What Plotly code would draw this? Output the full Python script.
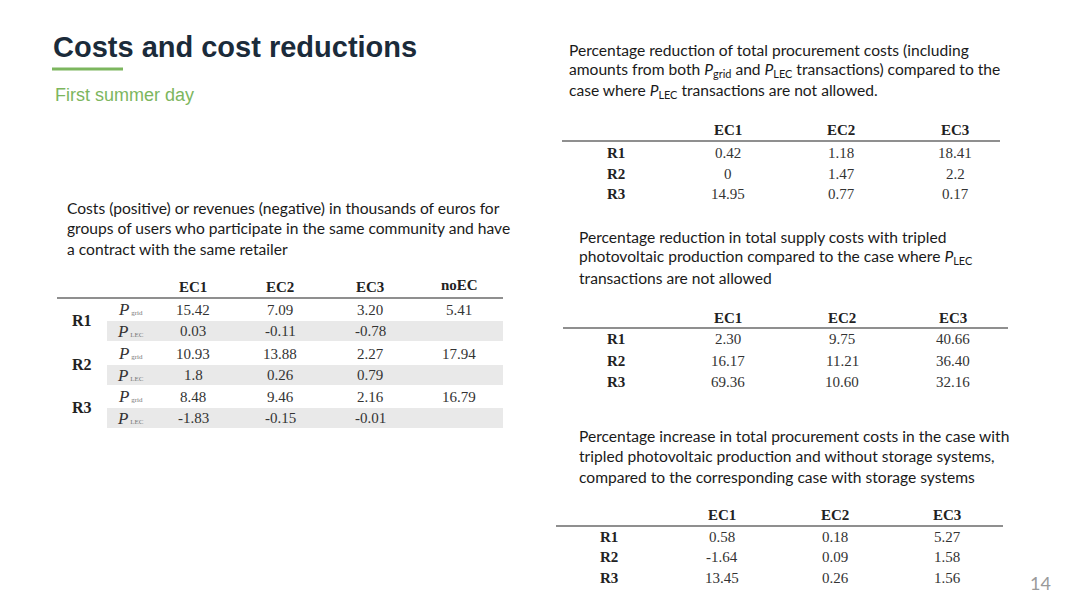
import plotly.graph_objects as go

# --- data ---------------------------------------------------------------
retailers = ["R1", "R2", "R3"]
communities = ["EC1", "EC2", "EC3"]
no_ec_label = "noEC"

# costs (thousands of euros), first summer day
pgrid_costs = [["15.42", "7.09", "3.20"], ["10.93", "13.88", "2.27"], ["8.48", "9.46", "2.16"]]
plec_costs = [["0.03", "-0.11", "-0.78"], ["1.8", "0.26", "0.79"], ["-1.83", "-0.15", "-0.01"]]
no_ec_costs = ["5.41", "17.94", "16.79"]

# percentage reduction of total procurement costs
reduction_procurement = [["0.42", "1.18", "18.41"], ["0", "1.47", "2.2"], ["14.95", "0.77", "0.17"]]
# percentage reduction with tripled PV
reduction_tripled_pv = [["2.30", "9.75", "40.66"], ["16.17", "11.21", "36.40"], ["69.36", "10.60", "32.16"]]
# percentage increase without storage
increase_no_storage = [["0.58", "0.18", "5.27"], ["-1.64", "0.09", "1.58"], ["13.45", "0.26", "1.56"]]

title_text = "Costs and cost reductions"
subtitle_text = "First summer day"
page_number = "14"

caption_left = [
    "Costs (positive) or revenues (negative) in thousands of euros for",
    "groups of users who participate in the same community and have",
    "a contract with the same retailer",
]
caption_top = [
    "Percentage reduction of total procurement costs (including",
    "amounts from both <i>P</i><sub>grid</sub> and <i>P</i><sub>LEC</sub> transactions) compared to the",
    "case where <i>P</i><sub>LEC</sub> transactions are not allowed.",
]
caption_mid = [
    "Percentage reduction in total supply costs with tripled",
    "photovoltaic production compared to the case where <i>P</i><sub>LEC</sub>",
    "transactions are not allowed",
]
caption_bot = [
    "Percentage increase in total procurement costs in the case with",
    "tripled photovoltaic production and without storage systems,",
    "compared to the corresponding case with storage systems",
]

# --- styling --------------------------------------------------------------
SANS = "Lato, 'Open Sans', sans-serif"
SERIF = "'Liberation Serif', 'DejaVu Serif', serif"
ARIAL = "'Liberation Sans', Arial, sans-serif"
TXT = "#222222"
VAL = "#333333"
GREEN = "#7cb65e"
VSIZE = 15

fig = go.Figure()
ann = []
shapes = []


def text(x, y, s, size=VSIZE, font=SERIF, color=VAL, anchor="center", bold=False):
    ann.append(dict(x=x, y=y, xref="x", yref="y", text=f"<b>{s}</b>" if bold else s,
                    showarrow=False, xanchor=anchor, yanchor="middle",
                    font=dict(family=font, size=size, color=color)))


def hline(x0, x1, y, color="#6a6a6a", width=1.5):
    shapes.append(dict(type="line", xref="x", yref="y", x0=x0, x1=x1, y0=y, y1=y,
                       line=dict(color=color, width=width)))


def caption(x, y0, lines, dy=20.3):
    for i, line in enumerate(lines):
        text(x, y0 + i * dy, line, size=15.6, font=SANS, color="#1a1a1a", anchor="left")


def p_label(sub):
    return f"<i>P</i><span style='font-size:7px;color:#777'> {sub}</span>"


def simple_table(values, col_x, label_x, header_y, line_y, line_x0, line_x1, row_y):
    for c, cx in zip(communities, col_x):
        text(cx, header_y, c, bold=True, color=TXT)
    hline(line_x0, line_x1, line_y)
    for r, ry, row in zip(retailers, row_y, values):
        text(label_x, ry, r, bold=True, color=TXT)
        for cx, v in zip(col_x, row):
            text(cx, ry, v)


# title block
text(51, 47, f"<b>{title_text}</b>", size=29, font=ARIAL, color="#1b2b3a", anchor="left")
hline(52, 123, 69, color=GREEN, width=3)
text(53, 95, subtitle_text, size=18, font=ARIAL, color=GREEN, anchor="left")

# left table
caption(65, 208, caption_left)
left_cols = [193, 280, 370]
text(459, 285, f"<b>{no_ec_label}</b>", color=TXT)
for c, cx in zip(communities, left_cols):
    text(cx, 287, c, bold=True, color=TXT)
hline(57, 503, 298)
group_y = [320, 364, 407]
for r, gy, grid_row, lec_row, noec in zip(retailers, group_y, pgrid_costs, plec_costs, no_ec_costs):
    y_grid, y_lec = gy - 10.5, gy + 11
    shapes.append(dict(type="rect", xref="x", yref="y", x0=107, x1=503, y0=y_lec - 10, y1=y_lec + 10,
                       fillcolor="#e9e9e9", line=dict(width=0), layer="below"))
    text(82, gy, r, size=16, bold=True, color=TXT)
    text(130, y_grid, p_label("grid"), size=17, color=VAL)
    text(130, y_lec, p_label("LEC"), size=17, color=VAL)
    for cx, v in zip(left_cols, grid_row):
        text(cx, y_grid, v)
    for cx, v in zip(left_cols, lec_row):
        text(cx, y_lec, v)
    text(459, y_grid, noec)

# right tables
caption(567, 50, caption_top)
simple_table(reduction_procurement, [728, 841, 955], 616, 130, 141, 562, 1000, [153, 174, 194])

caption(577, 237, caption_mid)
simple_table(reduction_tripled_pv, [728, 842, 953], 616, 318, 328, 563, 1008, [339, 361, 382])

caption(577, 436, caption_bot)
simple_table(increase_no_storage, [722, 835, 947], 609, 515, 526, 556, 1003, [537, 557, 578])

text(1040, 583, page_number, size=18, font=SANS, color="#9a9a9a")

# the page body adds an 8px offset, so shift the ranges to keep screen pixels == data units
fig.update_layout(
    width=1080, height=608,
    margin=dict(l=0, r=0, t=0, b=0),
    paper_bgcolor="white", plot_bgcolor="white",
    xaxis=dict(range=[8, 1088], visible=False, fixedrange=True),
    yaxis=dict(range=[616, 8], visible=False, fixedrange=True),
    annotations=ann, shapes=shapes, showlegend=False,
)
fig.write_html("out.html")
